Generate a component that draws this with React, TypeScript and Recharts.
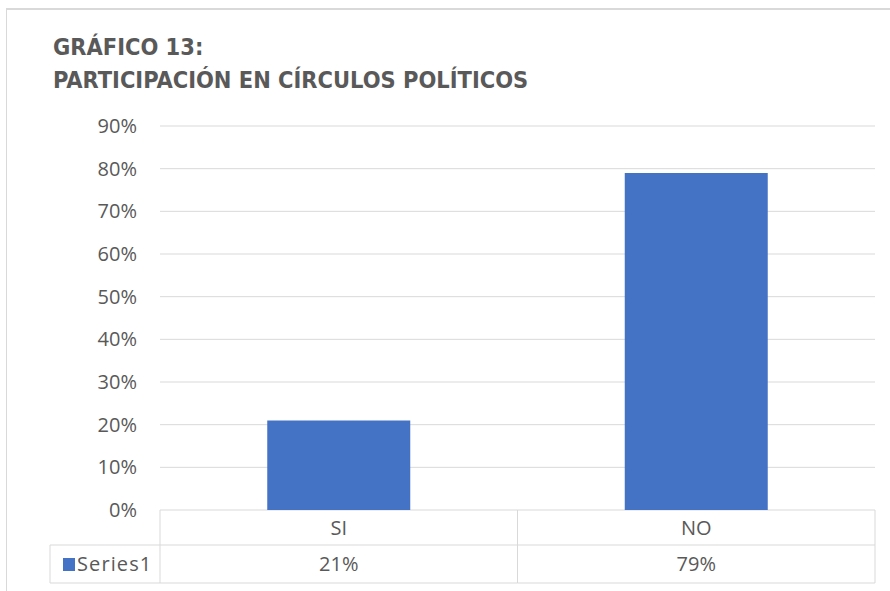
import React from 'react';
import { BarChart, Bar, XAxis, YAxis, CartesianGrid } from 'recharts';

const categories = ['SI', 'NO'];
const values = [0.21, 0.79];
const yTicks = [0, 0.1, 0.2, 0.3, 0.4, 0.5, 0.6, 0.7, 0.8, 0.9];
const seriesName = 'Series1';
const valueLabels = ['21%', '79%'];
const titleLines = ['GRÁFICO 13:', 'PARTICIPACIÓN EN CÍRCULOS POLÍTICOS'];

const data = categories.map((c, i) => ({ category: c, value: values[i], label: valueLabels[i] }));

const TEXT = '#595959';
const GRID = '#D9D9D9';
const BAR = '#4472C4';
const FONT = "'Open Sans', 'DejaVu Sans', sans-serif";
const TITLE_FONT = "'Liberation Sans Narrow', 'DejaVu Sans Condensed', sans-serif";

const ROW1 = 35;
const ROW2 = 38;

function TableTick(props: any) {
  const { x, y, payload, index } = props;
  const half = payload && payload.offset ? payload.offset : 178.75;
  const left = x - half;
  const right = x + half;
  const top = y;
  const mid = top + ROW1;
  const bottom = mid + ROW2;
  const item = data[index] || data.find((d) => d.category === payload.value);
  return (
    <g>
      <line x1={left} y1={top} x2={left} y2={bottom} stroke={GRID} strokeWidth={1} />
      <line x1={right} y1={top} x2={right} y2={bottom} stroke={GRID} strokeWidth={1} />
      <line x1={left} y1={mid} x2={right} y2={mid} stroke={GRID} strokeWidth={1} />
      <line x1={left} y1={bottom} x2={right} y2={bottom} stroke={GRID} strokeWidth={1} />
      <text x={x} y={top + ROW1 / 2 + 7} textAnchor="middle" fill={TEXT} fontSize={20} fontFamily={FONT}>
        {payload.value}
      </text>
      <text x={x} y={mid + ROW2 / 2 + 7} textAnchor="middle" fill={TEXT} fontSize={20} fontFamily={FONT}>
        {item ? item.label : ''}
      </text>
      {index === 0 && (
        <g>
          <line x1={50} y1={mid} x2={left} y2={mid} stroke={GRID} strokeWidth={1} />
          <line x1={50} y1={bottom} x2={left} y2={bottom} stroke={GRID} strokeWidth={1} />
          <line x1={50} y1={mid} x2={50} y2={bottom} stroke={GRID} strokeWidth={1} />
          <rect x={63} y={mid + 13} width={12} height={13} fill={BAR} />
          <text x={77} y={mid + ROW2 / 2 + 7} textAnchor="start" fill={TEXT} fontSize={20} fontFamily={FONT} letterSpacing={1.1}>
            {seriesName}
          </text>
        </g>
      )}
    </g>
  );
}

export default function App() {
  return (
    <div style={{ position: 'absolute', left: 0, top: 0, width: 890, height: 591, overflow: 'hidden', background: '#fff' }}>
      <div
        style={{
          position: 'absolute',
          left: 6,
          top: 8,
          width: 900,
          height: 600,
          borderTop: `2px solid ${GRID}`,
          borderLeft: `1px solid ${GRID}`,
        }}
      />
      <div style={{ position: 'absolute', left: 0, top: 0 }}>
        <BarChart
          width={890}
          height={591}
          data={data}
          margin={{ top: 126, right: 15, bottom: 0, left: 0 }}
          barCategoryGap="30%"
        >
          <CartesianGrid horizontal vertical={false} stroke={GRID} />
          <XAxis
            dataKey="category"
            height={81}
            axisLine={false}
            tickLine={false}
            tickSize={0}
            tickMargin={0}
            interval={0}
            tick={<TableTick />}
          />
          <YAxis
            width={160}
            domain={[0, 0.9]}
            ticks={yTicks}
            axisLine={false}
            tickLine={false}
            tickSize={6}
            tickMargin={17}
            interval={0}
            tickFormatter={(v: number) => `${Math.round(v * 100)}%`}
            tick={{ fill: TEXT, fontSize: 20, fontFamily: FONT }}
          />
          <Bar dataKey="value" fill={BAR} isAnimationActive={false} />
        </BarChart>
      </div>
      <svg width={890} height={591} style={{ position: 'absolute', left: 0, top: 0, pointerEvents: 'none' }}>
        <text x={53} y={55} fill={TEXT} fontSize={23.4} fontWeight="bold" fontFamily={TITLE_FONT}>
          {titleLines[0]}
        </text>
        <text x={53} y={88} fill={TEXT} fontSize={23.4} fontWeight="bold" fontFamily={TITLE_FONT}>
          {titleLines[1]}
        </text>
      </svg>
    </div>
  );
}
